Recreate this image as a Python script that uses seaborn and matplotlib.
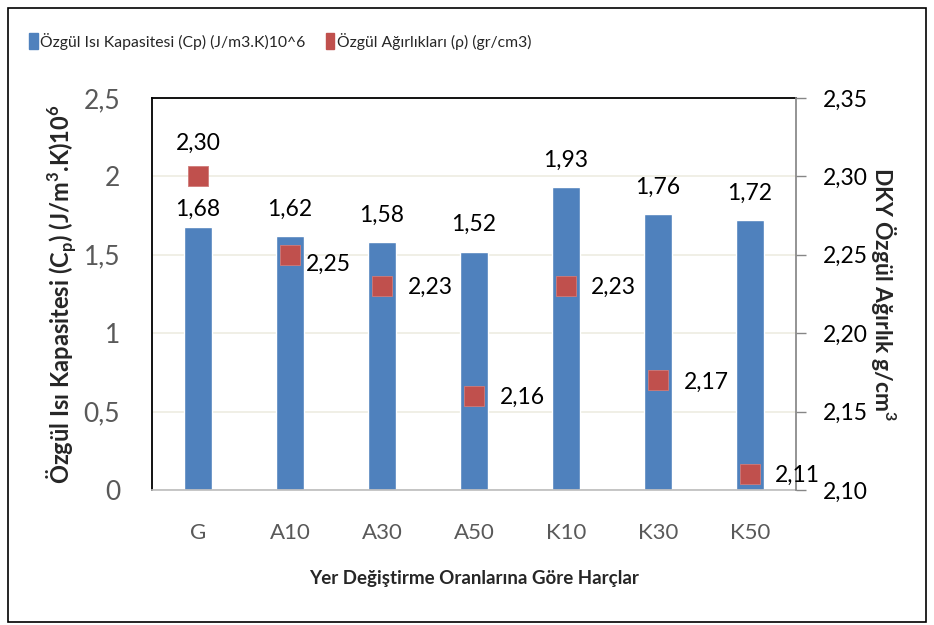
import matplotlib
matplotlib.use("Agg")
import matplotlib.pyplot as plt
import seaborn as sns
import numpy as np
import pandas as pd
from matplotlib.patches import Rectangle, Patch

categories = ["G", "A10", "A30", "A50", "K10", "K30", "K50"]
cp_values = [1.68, 1.62, 1.58, 1.52, 1.93, 1.76, 1.72]
rho_values = [2.30, 2.25, 2.23, 2.16, 2.23, 2.17, 2.11]
left_ticks = [0, 0.5, 1, 1.5, 2, 2.5]
left_tick_labels = ["0", "0,5", "1", "1,5", "2", "2,5"]
right_ticks = [2.10, 2.15, 2.20, 2.25, 2.30, 2.35]
right_tick_labels = ["2,10", "2,15", "2,20", "2,25", "2,30", "2,35"]
legend_cp = "Özgül Isı Kapasitesi (Cp) (J/m3.K)10^6"
legend_rho = "Özgül Ağırlıkları (ρ) (gr/cm3)"

sns.set_theme(style="white")
plt.rcParams['font.family'] = ['Lato', 'DejaVu Sans']
plt.rcParams['mathtext.fontset'] = 'custom'
plt.rcParams['mathtext.rm'] = 'Lato'
plt.rcParams['mathtext.bf'] = 'Lato:bold'

BLUE = "#4F81BD"
RED = "#C0504D"

fig = plt.figure(figsize=(9.34, 6.25), dpi=100)
ax = fig.add_axes([152/934, 1-490/625, 644/934, 392/625])

df = pd.DataFrame({"cat": categories, "cp": cp_values})
sns.barplot(data=df, x="cat", y="cp", color=BLUE, width=0.30, ax=ax, saturation=1)
ax.set_xlim(-0.5, 6.5)
ax.set_ylim(0, 2.5)
ax.set_yticks(left_ticks)
ax.set_yticklabels(left_tick_labels)
ax.tick_params(axis='y', labelsize=19, length=0, pad=23)
ax.tick_params(axis='x', labelsize=16, length=0, pad=24)
for t in ax.get_xticklabels() + ax.get_yticklabels():
    t.set_color("#595959")
ax.grid(axis='y', color="#EEECE1", lw=1.2)
ax.set_axisbelow(True)
ax.set_xlabel("Yer Değiştirme Oranlarına Göre Harçlar", fontsize=13.5, fontweight='bold', labelpad=19)
ax.set_ylabel(r"Özgül Isı Kapasitesi (C$_\mathbf{p}$) (J/m$^\mathbf{3}$.K)10$^\mathbf{6}$",
              fontsize=17, fontweight='bold', labelpad=3)
for s in ["left", "top"]:
    ax.spines[s].set_color("black")
    ax.spines[s].set_linewidth(1.3)
ax.spines["bottom"].set_color("#BFBFBF")
ax.spines["right"].set_visible(False)

bar_offsets = [12.2, 19.4, 19.4, 19.4, 19.4, 19.4, 19.4]
for i, v in enumerate(cp_values):
    ax.annotate(f"{v:.2f}".replace(".", ","), (i, v), xytext=(0, bar_offsets[i]), textcoords="offset points",
                ha="center", va="center", fontsize=16.5, color="black")

ax2 = ax.twinx()
dfr = pd.DataFrame({"x": np.arange(len(categories)), "rho": rho_values})
sns.scatterplot(data=dfr, x="x", y="rho", marker="s", s=207, color=RED, edgecolor="#D07B79",
                linewidth=0.6, ax=ax2, zorder=3)
ax2.set_ylim(2.10, 2.35)
ax2.set_yticks(right_ticks)
ax2.set_yticklabels(right_tick_labels)
ax2.tick_params(axis='y', colors="#868686", labelcolor="black", labelsize=16.5, length=7, width=1,
                direction='out', right=True, pad=12)
ax2.set_ylabel("DKY Özgül Ağırlık g/cm$^\\mathbf{3}$", fontsize=16.5, fontweight='bold', rotation=-90, labelpad=22)
ax2.set_xlabel("")
for s in ["left", "top", "bottom"]:
    ax2.spines[s].set_visible(False)
ax2.spines["right"].set_color("#868686")
ax.set_xlim(-0.5, 6.5)

rho_offsets = [(0, 23.8), (27.4, -7.2), (34.5, -0.7), (35.0, -0.7), (34.0, -0.7), (34.5, -1.4), (33.8, -0.7)]
for i, v in enumerate(rho_values):
    dx, dy = rho_offsets[i]
    ax2.annotate(f"{v:.2f}".replace(".", ","), (i, v), xytext=(dx, dy), textcoords="offset points",
                 ha="center", va="center", fontsize=16.5, color="black", zorder=4)

handles = [Patch(facecolor=BLUE, edgecolor=BLUE), Patch(facecolor=RED, edgecolor=RED)]
fig.legend(handles, [legend_cp, legend_rho], loc="center", bbox_to_anchor=(280/934, 1-41/625),
           ncol=2, frameon=False, fontsize=11.3, handlelength=0.55, handleheight=1.15,
           handletextpad=0.15, columnspacing=1.3, labelcolor="#262626")

fig.add_artist(Rectangle((8/934, 3/625), 918/934, 614/625, transform=fig.transFigure,
                         fill=False, edgecolor="black", lw=1.2))

fig.savefig("out.png", dpi=100)
